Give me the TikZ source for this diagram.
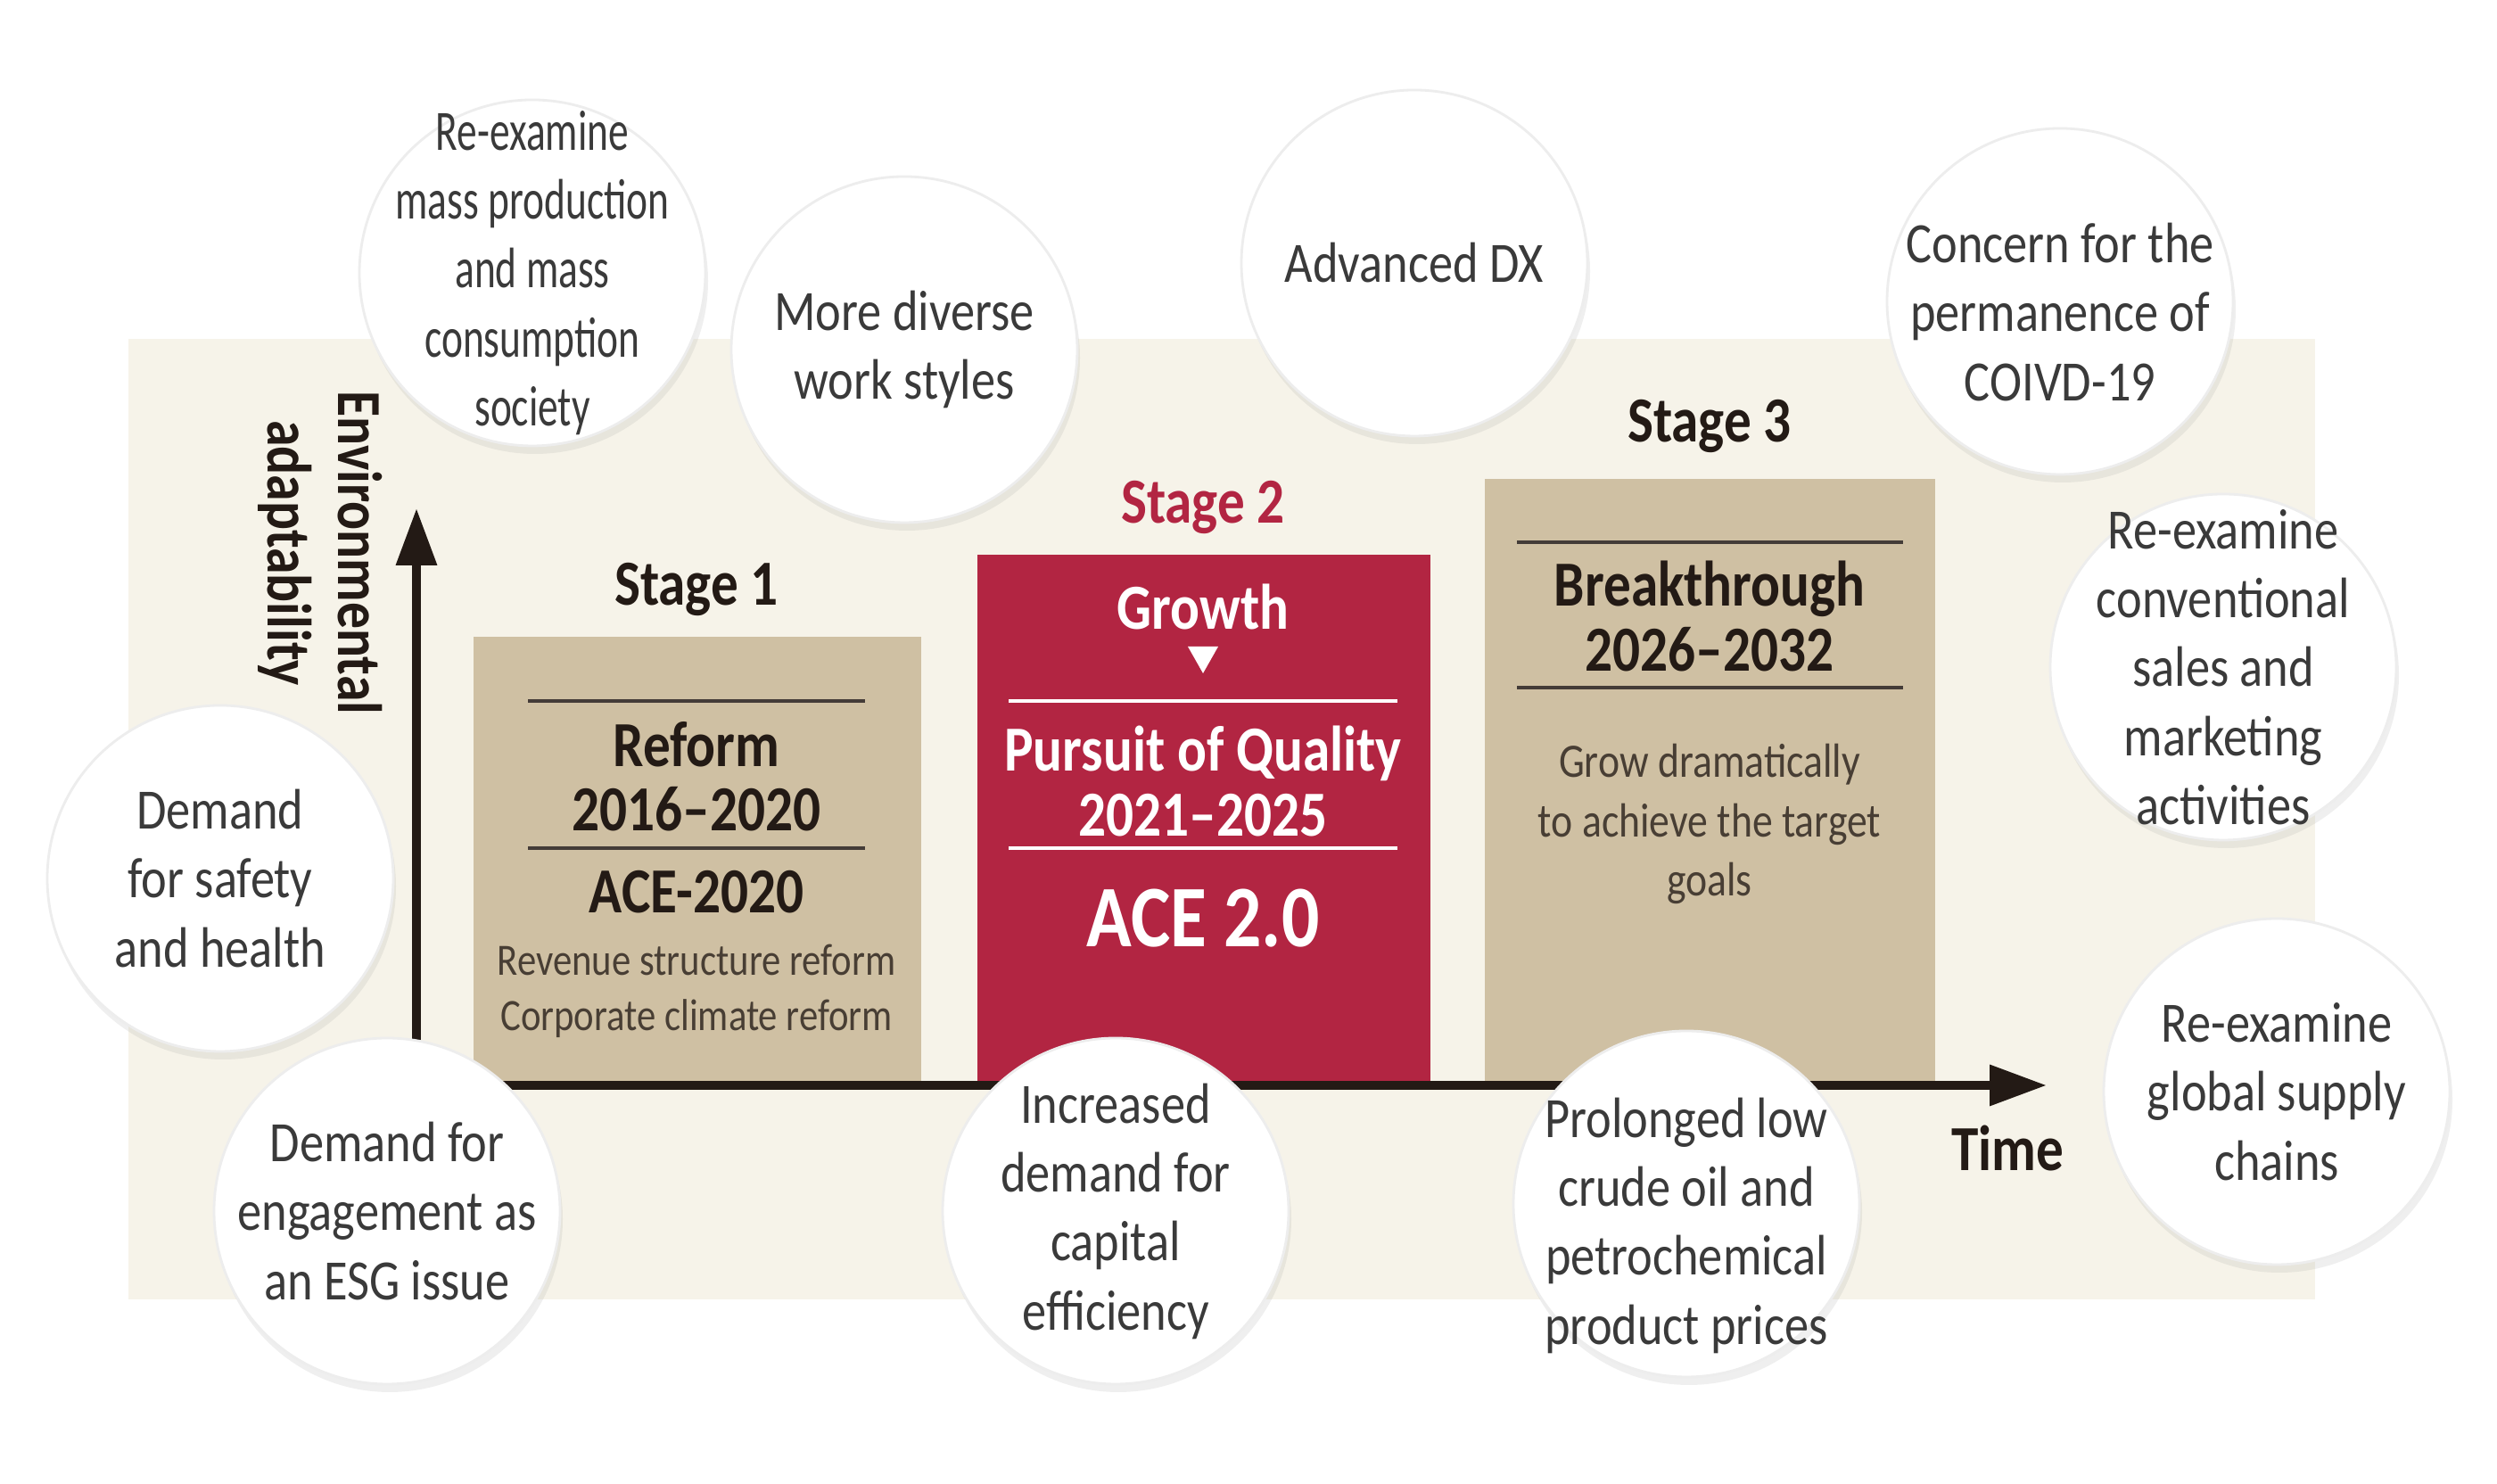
\documentclass[tikz,border=0pt]{standalone}
\usepackage{fontspec}
\setmainfont{Carlito}[FakeStretch=0.85]
\newfontfamily\circfont{Carlito}[FakeStretch=0.85]
\newfontfamily\circnarrow{Carlito}[FakeStretch=0.71]
\usepackage{xcolor}
\usetikzlibrary{arrows.meta, shadows}

\definecolor{bgcream}{RGB}{246,243,233}
\definecolor{stagetan}{RGB}{207,192,163}
\definecolor{stagered}{RGB}{178,37,66}
\definecolor{inkdark}{RGB}{35,26,21}
\definecolor{notegrey}{RGB}{72,62,52}
\definecolor{circtext}{RGB}{58,58,58}

\tikzset{
    circ/.style={circle, fill=white, draw=black!7, line width=0.8pt, minimum size=3.88cm, inner sep=0pt,
        drop shadow={opacity=0.12, shadow xshift=0.3mm, shadow yshift=-0.9mm}},
    circtxt/.style={align=center, inner sep=0pt, text=circtext, font=\circfont\fontsize{18.2}{22}\selectfont},
    stagebox/.style={rectangle, anchor=south west, inner sep=0pt},
    stagelabel/.style={text=inkdark, font=\bfseries\fontsize{20.5}{22}\selectfont},
    boxtitle/.style={align=center, text=inkdark, font=\bfseries\fontsize{20.5}{20.5}\selectfont},
    boxnote/.style={align=center, text=notegrey, font=\fontsize{14.3}{17.6}\selectfont},
    sepline/.style={draw=inkdark!85, line width=1.4pt},
    axis/.style={draw=inkdark, line width=2.8pt, -{Triangle[length=6.4mm,width=4.4mm]}}
}

\begin{document}
\begin{tikzpicture}
    \useasboundingbox (0,0) rectangle (28,16.64);
    \fill[white] (0,0) rectangle (28,16.64);
    \fill[bgcream] (1.44,2.07) rectangle (25.96,12.84);

    % the three stages
    \node[stagebox, fill=stagetan, minimum width=5.02cm, minimum height=5.02cm] (box1) at (5.30,4.47) {};
    \node[stagebox, fill=stagered, minimum width=5.08cm, minimum height=5.94cm] (box2) at (10.95,4.47) {};
    \node[stagebox, fill=stagetan, minimum width=5.05cm, minimum height=6.79cm] (box3) at (16.64,4.47) {};

    \node[stagelabel] (stage1) at (7.81,10.03) {Stage 1};
    \node[stagelabel, text=stagered] (stage2) at (13.49,10.95) {Stage 2};
    \node[stagelabel] (stage3) at (19.17,11.86) {Stage 3};

    \draw[sepline] (5.92,8.78) -- (9.70,8.78);
    \draw[sepline] (5.92,7.13) -- (9.70,7.13);
    \node[boxtitle] (reform) at (7.81,7.93) {Reform\\2016–2020};
    \node[boxtitle] (ace2020) at (7.81,6.64) {ACE-2020};
    \node[boxnote] (reformnotes) at (7.81,5.53) {Revenue structure reform\\Corporate climate reform};

    \node[boxtitle, text=white] (growth) at (13.49,9.83) {Growth};
    \fill[white] (13.32,9.39) -- (13.66,9.39) -- (13.49,9.09) -- cycle;
    \draw[sepline, draw=white] (11.31,8.78) -- (15.67,8.78);
    \draw[sepline, draw=white] (11.31,7.13) -- (15.67,7.13);
    \node[boxtitle, text=white] (quality) at (13.49,7.88) {Pursuit of Quality\\2021–2025};
    \node[boxtitle, text=white, font=\bfseries\fontsize{28}{30}\selectfont] (ace2) at (13.49,6.34) {ACE 2.0};

    \draw[sepline] (17.01,10.56) -- (21.34,10.56);
    \draw[sepline] (17.01,8.93) -- (21.34,8.93);
    \node[boxtitle] (breakthrough) at (19.17,9.73) {Breakthrough\\2026–2032};
    \node[boxnote, font=\fontsize{15.3}{18.8}\selectfont] (grow) at (19.17,7.40) {Grow dramatically\\to achieve the target\\goals};

    % axes
    \coordinate (origin) at (4.67,4.47);
    \coordinate (tend) at (22.95,4.47);
    \coordinate (vend) at (4.67,10.94);
    \draw[axis] (origin) -- (tend);
    \draw[axis] (origin) -- (vend);
    \node[stagelabel] (time) at (22.51,3.76) {Time};
    \node[stagelabel, rotate=-90, align=center, font=\bfseries\fontsize{20}{22.5}\selectfont] (envadapt) at (3.59,10.44) {Environmental\\adaptability};

    % surrounding factors
    \node[circ] (massprod) at (5.97,13.58) {};
    \node[circtxt, font=\circnarrow\fontsize{18.2}{22}\selectfont] (massprod-txt) at (massprod) {Re-examine\\mass production\\and mass\\consumption\\society};
    \node[circ] (workstyles) at (10.14,12.72) {};
    \node[circtxt] (workstyles-txt) at (workstyles) {More diverse\\work styles};
    \node[circ] (advdx) at (15.86,13.69) {};
    \node[circtxt] (advdx-txt) at (advdx) {Advanced DX};
    \node[circ] (covid) at (23.10,13.26) {};
    \node[circtxt] (covid-txt) at (23.10,13.14) {Concern for the\\permanence of\\COIVD-19};
    \node[circ] (sales) at (24.93,9.16) {};
    \node[circtxt] (sales-txt) at (sales) {Re-examine\\conventional\\sales and\\marketing\\activities};
    \node[circ] (supply) at (25.53,4.40) {};
    \node[circtxt] (supply-txt) at (supply) {Re-examine\\global supply\\chains};
    \node[circ] (safety) at (2.47,6.79) {};
    \node[circtxt] (safety-txt) at (safety) {Demand\\for safety\\and health};
    \node[circ] (esg) at (4.34,3.06) {};
    \node[circtxt] (esg-txt) at (esg) {Demand for\\engagement as\\an ESG issue};
    \node[circ] (capital) at (12.51,3.06) {};
    \node[circtxt] (capital-txt) at (capital) {Increased\\demand for\\capital\\efficiency};
    \node[circ] (crude) at (18.91,3.14) {};
    \node[circtxt] (crude-txt) at (18.91,2.90) {Prolonged low\\crude oil and\\petrochemical\\product prices};
\end{tikzpicture}
\end{document}
